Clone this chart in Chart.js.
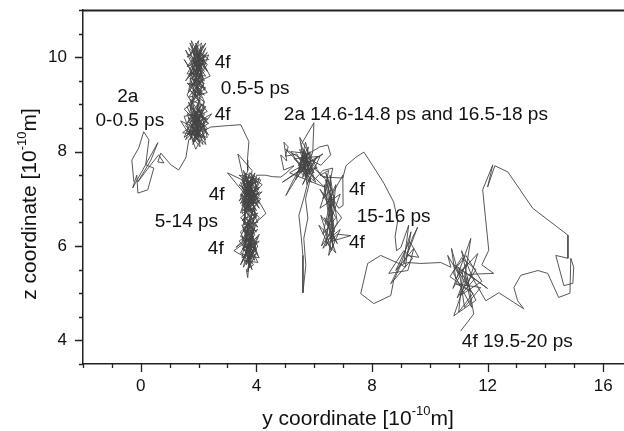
<!DOCTYPE html>
<html lang="en">
<head>
<meta charset="UTF-8">
<title>Trajectory in the y-z plane</title>
<script src="https://cdn.jsdelivr.net/npm/chart.js"></script>
<style>
  html, body { margin: 0; padding: 0; background: #fff; }
  #wrap { width: 624px; height: 431px; }
</style>
</head>
<body>
<div id="wrap"><canvas id="traj" width="624" height="431"></canvas></div>
<script>
// trajectory pieces, [y, z] in 10^-10 m in time order
const start2a = [
  [-0.24,7.36],[-0.31,7.82],[-0.07,8.08],[0.10,8.42],[0.28,8.25],[0.17,7.72],[0.45,7.65],[0.24,7.19],
  [-0.10,7.12],[-0.14,7.50],[-0.28,7.23],[0.59,8.19],[0.35,7.82],[-0.10,7.36],[0.42,7.78],[0.62,7.93],
  [0.80,7.76],[0.59,7.78],[0.69,7.97],[1.04,7.72],[1.31,7.61],[1.56,7.87],[1.63,8.14],[1.66,8.25]
];
const top4f = [
  [1.9,8.4],[2.1,8.9],[1.7,8.6],[2.2,8.3],[1.8,9.0],[2.0,8.2],[1.6,8.8],[2.3,8.7],[1.75,8.35],[2.05,9.1],
  [1.55,8.55],[2.15,8.15],[1.85,8.8],[2.25,8.45],[1.65,9.05],[1.95,8.6],[2.2,8.95],[1.7,8.25],[2.0,8.75],
  [1.8,8.5],[2.1,8.3],[1.6,8.95],[1.9,9.15],[2.3,8.85],[1.75,8.7],[2.05,8.45],[1.38,8.65],[1.85,8.2],
  [2.2,8.6],[1.95,8.95],[2.1,9.3],[1.8,9.45],[2.0,9.25],
  [1.7,9.7],[2.2,9.5],[1.85,10.0],[2.05,9.6],[1.65,10.2],[2.25,9.85],[1.9,10.3],[2.1,9.75],[1.75,9.55],
  [2.3,10.1],[1.95,9.9],[1.6,9.8],[2.15,10.25],[1.8,9.65],[2.0,10.35],[1.7,10.05],[2.2,9.7],[1.9,9.45],
  [2.1,10.15],[1.75,9.9],[2.35,9.95],[1.85,10.2],[2.05,9.8],[1.65,9.6],[2.25,10.3],[1.95,10.05],[1.8,9.75],
  [2.15,9.55],[1.7,10.3],[2.0,9.95],[2.3,9.7],[1.9,10.15],[1.6,10.0],[2.1,10.3],[1.85,9.6],[2.2,10.05],
  [1.95,9.35],[2.2,9.2],[1.8,9.3],[2.05,9.05],
  [1.7,9.3],[2.2,9.05],[1.85,9.55],[2.05,9.2],[1.6,9.45],[2.25,9.35],[1.8,9.1],[2.1,9.5],[1.65,9.15],
  [2.3,9.25],[1.9,9.6],[1.75,9.0],[2.15,9.4],[1.95,9.15],[1.7,9.55],[2.2,9.45],[1.85,9.2],[2.0,9.5],
  [1.7,8.85],[2.15,8.55],[1.9,8.3],[1.6,8.45],[2.05,8.1],[1.95,8.65],[2.25,8.95],[1.7,9.1],[2.0,8.5],
  [1.8,8.15],[2.2,8.8],[1.5,8.75],[1.9,8.05],[2.3,8.5],[1.85,8.75],[2.1,9.0],[1.65,8.35],[2.0,8.9],
  [2.3,8.6],[1.6,9.2],[2.15,9.9],[1.55,9.5],[2.25,10.2],[1.7,9.4],[2.4,9.6],[1.75,10.35],[2.05,9.4],
  [1.5,9.95],[2.2,9.3],[1.9,10.25],[1.65,9.25],[2.3,9.85],[1.8,10.1],[2.1,9.65],[1.55,10.15],[2.0,9.55],
  [2.35,10.05],[1.7,9.85],[2.15,9.45],[1.85,9.9],[2.25,9.6],[1.6,9.65],[2.05,10.1],[1.95,9.7],[2.2,9.95],
  [1.75,9.35],[2.1,9.15],[1.5,8.9],[2.3,8.4],[1.65,8.7],[2.15,8.75],[1.45,8.4],[2.0,8.35],[1.7,8.95],
  [2.35,8.6],[1.8,8.4],[2.1,8.6],[1.55,8.25],[1.95,8.85],[2.25,8.15],[1.75,8.55],[2.45,8.8],[1.85,8.3],
  [2.05,8.7],[1.6,8.6],[2.2,9.05],[1.9,8.5],[1.5,8.3],[2.0,9.0],[2.3,8.3],[1.7,8.4],[2.1,8.8],[1.8,8.6],
  [2.25,8.7],[1.95,8.25],
  [1.75,8.45],[2.25,8.25],[1.9,8.7],[2.35,8.35],[2.0,8.55],[1.8,8.2],[2.1,8.35],[2.2,8.45]
];
const hopToMid = [[2.42,8.52],[3.0,8.55],[3.46,8.57],[3.74,8.21],[3.69,7.82]];
const mid4f = [
  [3.7,7.6],[3.5,7.2],[3.9,7.45],[3.6,6.9],[4.0,7.1],[3.45,7.35],[3.8,6.8],[4.1,7.25],[3.55,7.0],[3.95,6.7],
  [3.65,7.45],[4.05,6.95],[3.5,6.75],[3.85,7.3],[3.0,7.55],[3.6,7.1],[4.15,7.0],[3.7,6.65],[3.9,7.5],
  [3.4,6.95],[3.75,7.2],[4.0,6.6],[3.55,6.85],[3.95,7.15],[3.65,6.7],[3.85,7.6],[3.36,7.95],[3.6,7.3],
  [4.1,6.8],[3.75,7.05],[3.5,7.45],[4.0,7.3],[3.7,6.85],[4.2,7.15],[3.6,6.95],[3.9,7.35],[3.45,7.05],
  [3.8,7.55],[4.05,7.2],[3.55,7.35],[3.95,6.9],[3.65,7.15],[4.1,7.45],[3.75,6.75],[3.5,7.0],[3.85,7.2],
  [4.33,6.69],[3.9,6.45],[3.6,6.6],[4.0,6.3],
  [3.5,6.55],[4.05,6.7],[3.6,6.35],[3.95,6.85],[3.45,6.6],[3.85,6.4],[4.1,6.6],[3.65,6.9],[3.55,6.45],
  [4.0,6.65],[3.7,6.3],[3.9,6.8],[3.5,6.7],[3.8,6.5],[4.05,6.4],[3.6,6.75],[3.85,6.6],[3.7,6.45],
  [3.7,6.5],[3.45,6.2],[3.95,6.1],[3.6,5.9],[4.1,6.25],[3.75,5.7],[3.5,6.05],[3.9,5.85],[3.55,6.4],
  [4.05,6.0],[3.65,5.6],[3.85,6.3],[3.29,5.97],[3.7,6.15],[4.1,5.75],[3.6,5.8],[3.95,6.4],[3.5,5.65],
  [3.8,6.05],[3.7,5.33],[3.65,5.5],[3.9,5.6],[3.55,5.95],[4.05,6.2],[3.75,5.85],[3.45,6.3],[3.9,6.55],
  [3.6,6.2],[4.0,5.9],[3.7,6.35],[3.5,5.75],[3.85,5.95],[3.65,6.45],[4.0,6.05],[3.55,5.55],[3.8,6.25],
  [3.45,5.85],[3.95,5.7],[3.7,6.0],[3.6,6.35],[4.05,5.8],[3.75,6.45],[3.5,6.1],[3.9,6.2],[3.22,5.90],
  [3.65,5.75],[3.85,5.5],[3.6,6.05],[3.95,5.95],[3.7,5.65],
  [3.95,6.75],[3.55,6.55],[3.8,7.0],
  [3.55,7.6],[4.1,6.9],[3.4,7.3],[3.9,7.05],[3.6,7.55],[4.2,7.3],[3.5,6.85],[3.85,7.45],[3.45,6.7],
  [4.0,7.0],[3.7,7.35],[3.4,7.5],[4.15,7.4],[3.65,6.8],[3.95,7.55],[3.55,7.15],[4.05,6.85],[3.75,7.3],
  [3.45,6.9],[3.9,7.25],[3.6,6.75],[4.1,7.15],[3.8,6.9],[3.5,7.4],[4.0,6.75],[3.7,7.0],[3.85,6.65],
  [3.55,6.3],[4.0,6.45],[3.6,6.15],[3.9,5.75],[3.5,5.95],[4.1,6.1],[3.65,5.85],[3.45,5.6],[3.85,6.15],
  [3.55,5.7],[4.05,5.65],[3.7,6.1],[3.5,6.45],[3.95,6.25],[3.65,5.95],[3.4,6.1],[3.9,6.35],[3.75,5.55],
  [4.0,5.85],[3.6,5.65],[3.8,5.8],[3.5,6.2],[3.95,6.0],[3.7,5.45],[3.85,6.4],[3.55,6.05],[4.05,6.35],
  [3.65,6.25],[3.75,6.55],[3.95,6.6],[3.6,6.95],
  [3.6,6.45],[4.05,6.5],[3.7,6.9],[3.45,7.1],[3.9,6.9],[3.65,7.35],[4.05,7.35],[3.55,7.5],[3.85,7.1],
  [3.5,6.9],[4.0,7.45],[3.75,7.55],[3.6,7.05],[3.95,7.2],[3.7,6.8],[4.1,7.05],[3.8,7.4],[3.5,7.25],
  [3.9,6.95],[4.0,7.5],[4.2,7.5]
];
const hopTo2a = [[4.31,7.5],[4.55,7.47],[4.84,7.46],[5.02,7.54]];
const late2aFirst = [
  [5.3,7.7],[4.95,7.61],[4.84,7.93],[5.05,7.8],[4.95,8.2],[5.1,8.1],[5.0,7.9],[5.4,7.95],[5.7,7.6],
  [5.5,8.05],[5.9,7.8],[5.6,7.45],[5.8,8.1],[5.45,7.7],[6.0,7.55],[5.65,7.9],[5.35,7.4],[5.75,7.75],
  [5.55,8.15],[5.99,8.61],[5.95,8.0],[5.7,7.5],[6.1,7.9],[5.6,7.3],[5.85,7.65],[5.5,7.85],[6.2,8.1],
  [6.47,8.14],[6.57,7.93],[6.23,7.71],[5.8,7.85],[5.55,7.55],[5.9,7.35],[5.65,7.7],[5.02,7.07],[5.2,7.3],
  [5.75,7.95],[5.6,7.6],[5.2,8.0],[5.9,7.95],[5.4,7.55],[6.1,7.65],[5.5,8.3],[5.75,7.3],[6.2,7.9],
  [5.3,7.85],[5.85,7.5],[5.65,8.05],[6.05,7.35],[5.45,7.65],[5.8,7.7],[4.9,7.35],[6.3,7.95],[5.15,7.55],
  [6.35,7.25],[5.0,8.05],[5.7,7.8]
];
const mid1516 = [
  [6.0,7.4],[6.3,7.6],[6.64,7.65],[6.5,7.2],[6.7,6.8],[6.4,7.4],[6.6,6.5],[6.75,7.3],[6.45,6.9],[6.99,7.5],
  [7.0,6.86],[6.85,6.8],[6.55,7.1],[6.7,6.3],[6.35,6.6],[6.8,6.05],[6.5,6.4],[6.23,6.65],[6.6,5.9],
  [6.16,6.44],[6.55,6.2],[6.75,5.85],[6.4,6.1],[6.9,6.35],[6.5,5.8],[6.65,6.45],[6.3,5.95],[6.8,6.25],
  [7.27,6.22],[6.6,6.1],[6.45,6.55],[6.7,7.0],[6.4,7.55],[6.6,7.2],[6.3,7.0],[6.5,7.6],[6.2,7.5],
  [6.45,7.45],[6.7,6.1],[6.35,7.3],[6.65,5.95],[6.55,7.5],[6.8,6.5],[6.4,6.0],[6.6,7.05],[6.3,6.25],
  [6.75,6.6],[6.2,7.2],[6.95,6.6],[6.25,6.0],[6.9,7.1],[6.2,6.8],[6.5,7.35]
];
const late2aSecond = [
  [5.9,7.7],[5.6,7.9],[5.75,7.45],[5.5,7.75],[5.85,8.0],[5.45,7.55],[5.7,8.2],[5.95,7.6],[5.6,8.0],
  [5.8,7.4],[5.64,7.01],[5.47,6.65],[5.55,6.2],[5.61,5.8],[5.61,5.01],[5.71,5.59],[5.64,6.16],[5.78,6.59],
  [5.7,7.0],[5.9,7.5],[5.7,7.85],[6.0,7.7],[6.3,7.46]
];
const arcOver = [
  [6.99,7.44],[7.1,7.7],[7.44,7.88],[7.72,7.99],[8.06,7.67],[8.41,7.33],[8.75,6.93],[8.89,6.54],[8.8,6.2],[8.85,5.9]
];
const near93 = [
  [9.0,5.97],[9.27,6.44],[9.1,5.63],[9.58,6.40],[9.41,6.19],[9.2,5.8],[9.62,5.76],[9.3,6.1],[8.82,5.48],
  [9.45,5.95],[9.24,5.48],[8.58,5.42],[9.1,5.9],[9.41,5.74],[8.65,5.2],[9.05,5.7],[9.35,6.3],[9.15,5.55],
  [8.93,5.63],
  [8.30,5.80],[7.85,5.63],[7.61,4.99],[8.06,4.78],[8.65,4.95],[8.75,5.27],[9.0,5.6],
  [9.24,5.65],[9.69,5.63],[10.38,5.65],[10.73,5.55]
];
const end4fFirst = [
  [10.62,5.8],[11.0,5.4],[10.75,5.95],[10.9,5.3],[11.3,5.65],[10.8,5.1],[11.42,6.16],[11.2,5.3],[10.95,4.9],
  [11.6,5.5],[11.1,5.75],[10.7,5.35],[11.5,5.0],[11.0,4.6],[11.15,5.5],[11.66,5.84],[11.3,5.15],[10.85,5.6],
  [11.55,5.3],[11.05,4.95],[11.8,5.25],[11.25,5.8],[10.8,5.45],[11.45,4.7],[11.2,5.45],[12.0,5.1],
  [11.35,5.4],[12.21,5.42],[11.8,5.6],[12.04,5.91]
];
const loopRight = [
  [11.83,7.19],[12.18,7.72],[12.0,7.25],[12.25,7.7],[12.70,7.57],[13.56,6.80],[14.78,6.23],[14.78,5.74],
  [14.36,5.80],[14.64,5.16],[14.95,5.21],[14.98,5.55],[14.88,5.74],[14.85,5.0],[14.46,4.91],[14.08,5.42],
  [13.74,5.48],[13.15,5.38],[12.91,5.12],[13.04,4.84],[13.25,4.67],[12.39,5.01],[11.94,4.84]
];
const end4fLast = [
  [11.5,5.3],[11.1,5.9],[11.4,5.05],[10.9,5.2],[11.76,5.12],[11.2,4.7],[11.0,5.55],[11.6,4.85],
  [10.83,4.52],[11.3,5.35],[11.52,4.56],[11.07,4.2]
];

// axis ticks that carry a label
const yCoordTicks = [0, 4, 8, 12, 16];
const zCoordTicks = [4, 6, 8, 10];

// site / time labels written in the plot
const siteNotes = [
  '2a', '0-0.5 ps', '4f', '0.5-5 ps', '4f', '2a 14.6-14.8 ps and 16.5-18 ps',
  '4f', '5-14 ps', '4f', '4f', '15-16 ps', '4f', '4f 19.5-20 ps'
];
// where each note sits: [y, z, align]
const notePlaces = [
  [-0.45, 9.06, 'center'], [-0.38, 8.55, 'center'], [2.56, 9.77, 'left'], [2.77, 9.21, 'left'],
  [2.56, 8.67, 'left'], [4.95, 8.67, 'left'], [2.35, 6.97, 'left'], [0.48, 6.40, 'left'],
  [2.32, 5.84, 'left'], [7.20, 7.08, 'left'], [7.47, 6.50, 'left'], [7.20, 5.95, 'left'],
  [11.11, 3.87, 'left']
];

const path = [].concat(start2a, top4f, hopToMid, mid4f, hopTo2a, late2aFirst, mid1516,
  late2aSecond, arcOver, near93, end4fFirst, loopRight, end4fLast)
  .map(([y, z]) => ({ x: y, y: z }));

const FONT = 'Liberation Sans, Arial, Helvetica, sans-serif';

// draw "text" + superscript + "text" centred on (x, y) baseline
function drawWithSup(ctx, parts, cx, cy) {
  let total = 0;
  parts.forEach(p => {
    ctx.font = (p.sup ? '13px ' : '21px ') + FONT;
    p.w = ctx.measureText(p.t).width;
    total += p.w;
  });
  let x = cx - total / 2;
  parts.forEach(p => {
    ctx.font = (p.sup ? '13px ' : '21px ') + FONT;
    ctx.fillText(p.t, x, p.sup ? cy - 10 : cy);
    x += p.w;
  });
}

const frameAndText = {
  id: 'frameAndText',
  afterDraw(chart) {
    const ctx = chart.ctx;
    const xs = chart.scales.x, ys = chart.scales.y;
    const a = chart.chartArea;
    ctx.save();
    ctx.strokeStyle = '#222';
    ctx.lineWidth = 1.3;
    ctx.beginPath();
    xs.ticks.forEach(t => {
      const px = Math.round(xs.getPixelForValue(t.value)) + 0.5;
      const len = yCoordTicks.includes(t.value) ? 8 : 4;
      ctx.moveTo(px, a.bottom);
      ctx.lineTo(px, a.bottom + len);
    });
    ys.ticks.forEach(t => {
      const py = Math.round(ys.getPixelForValue(t.value)) + 0.5;
      const len = zCoordTicks.includes(t.value) ? 8 : 4;
      ctx.moveTo(a.left, py);
      ctx.lineTo(a.left - len, py);
    });
    ctx.stroke();
    // top frame line
    ctx.lineWidth = 2;
    ctx.beginPath();
    ctx.moveTo(a.left, a.top + 0.5);
    ctx.lineTo(a.right, a.top + 0.5);
    ctx.stroke();

    // notes inside the plot
    ctx.fillStyle = '#111';
    ctx.font = '19px ' + FONT;
    ctx.textBaseline = 'alphabetic';
    siteNotes.forEach((txt, i) => {
      const [y, z, align] = notePlaces[i];
      ctx.textAlign = align;
      ctx.fillText(txt, xs.getPixelForValue(y), ys.getPixelForValue(z));
    });

    // axis titles with superscript
    ctx.textAlign = 'left';
    drawWithSup(ctx, [{ t: 'y coordinate [10' }, { t: '-10', sup: true }, { t: 'm]' }], 358, 425);
    ctx.translate(36, 204);
    ctx.rotate(-Math.PI / 2);
    drawWithSup(ctx, [{ t: 'z coordinate [10' }, { t: '-10', sup: true }, { t: 'm]' }], 0, 0);
    ctx.restore();
  }
};

new Chart(document.getElementById('traj'), {
  type: 'scatter',
  data: {
    datasets: [{
      data: path,
      showLine: true,
      borderColor: '#444',
      borderWidth: 0.9,
      pointRadius: 0,
      tension: 0
    }]
  },
  options: {
    responsive: false,
    animation: false,
    devicePixelRatio: 1,
    layout: { padding: { top: 10, right: 0, left: 0, bottom: 0 } },
    plugins: { legend: { display: false }, tooltip: { enabled: false } },
    scales: {
      x: {
        type: 'linear',
        min: -2,
        max: 16.72,
        afterFit(scale) {
          scale.height = 67;
          scale.paddingLeft = 0;
          scale.paddingRight = 0;
        },
        grid: { drawOnChartArea: false, drawTicks: false },
        border: { display: true, color: '#222', width: 1.5 },
        ticks: {
          stepSize: 1,
          includeBounds: false,
          padding: 12,
          autoSkip: false,
          maxRotation: 0,
          color: '#111',
          font: { family: FONT, size: 17 },
          callback: v => yCoordTicks.includes(v) ? String(v) : ''
        }
      },
      y: {
        type: 'linear',
        min: 3.5,
        max: 11,
        afterFit(scale) {
          scale.width = 83;
          scale.paddingTop = 0;
          scale.paddingBottom = 0;
        },
        grid: { drawOnChartArea: false, drawTicks: false },
        border: { display: true, color: '#222', width: 1.5 },
        ticks: {
          stepSize: 0.5,
          padding: 16,
          autoSkip: false,
          color: '#111',
          font: { family: FONT, size: 17 },
          callback: v => zCoordTicks.includes(v) ? String(v) : ''
        }
      }
    }
  },
  plugins: [frameAndText]
});
</script>
</body>
</html>
